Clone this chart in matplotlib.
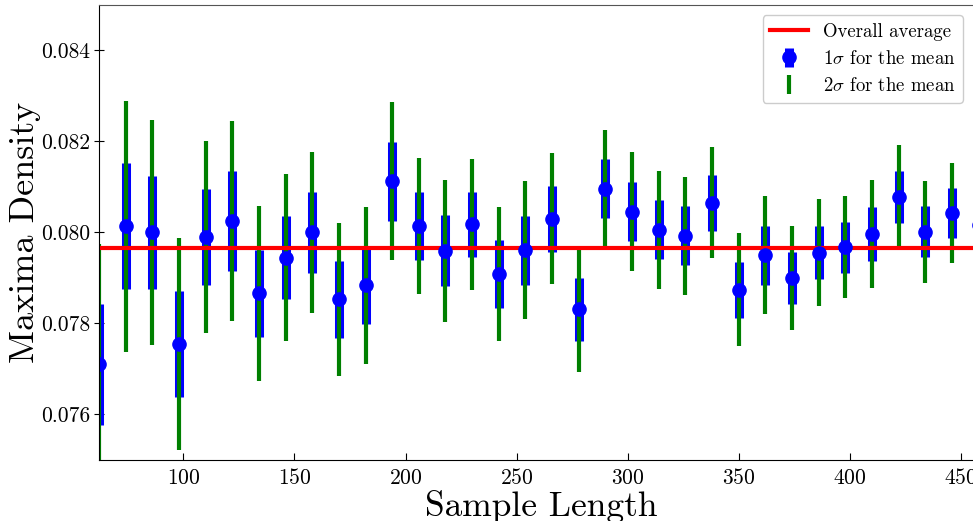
import numpy as np
import matplotlib
matplotlib.use('Agg')
import matplotlib.pyplot as plt
from matplotlib.ticker import FormatStrFormatter

plt.rcParams['font.family'] = 'serif'
plt.rcParams['font.serif'] = ['cmr10']
plt.rcParams['mathtext.fontset'] = 'cm'
plt.rcParams['axes.formatter.use_mathtext'] = True

#comprimento da amostra
sample_length = [62, 74, 86, 98, 110, 122, 134, 146, 158, 170, 182, 194, 206, 218, 230, 242, 254,
                 266, 278, 290, 302, 314, 326, 338, 350, 362, 374, 386, 398, 410, 422, 434, 446, 458]

#média da densidade máxima
mean_density = [0.07710, 0.08014, 0.08000, 0.07755, 0.07990, 0.08025, 0.07866, 0.07945, 0.08000,
                0.07853, 0.07884, 0.08113, 0.08014, 0.07960, 0.08018, 0.07909, 0.07961, 0.08030,
                0.07831, 0.08096, 0.08046, 0.08006, 0.07993, 0.08065, 0.07874, 0.07950, 0.07900,
                0.07956, 0.07968, 0.07997, 0.08078, 0.08002, 0.08042, 0.08017]

#desvio padrão da média (1 sigma)
sigma_mean = [0.00132, 0.00138, 0.00124, 0.00116, 0.00105, 0.00110, 0.00096, 0.00092, 0.00089,
              0.00084, 0.00086, 0.00087, 0.00075, 0.00078, 0.00072, 0.00074, 0.00076, 0.00072,
              0.00069, 0.00065, 0.00065, 0.00065, 0.00065, 0.00061, 0.00062, 0.00065, 0.00057,
              0.00059, 0.00056, 0.00059, 0.00057, 0.00056, 0.00055, 0.00055]

overall_average = 0.07967

x = np.array(sample_length)
y = np.array(mean_density)
s = np.array(sigma_mean)

fig = plt.figure(figsize=(9.73, 5.21), dpi=100)
ax = fig.add_axes([99/973, 61/521, 884/973, 455/521])

ax.errorbar(x, y, yerr=s, fmt='o', color='blue', ecolor='blue', markersize=9.5,
            elinewidth=6.5, capsize=0, label='$1\\sigma$ for the mean')
ax.errorbar(x, y, yerr=2*s, fmt='none', ecolor='green', elinewidth=3,
            capsize=0, label='$2\\sigma$ for the mean')
ax.axhline(overall_average, color='red', linewidth=3, label='Overall average')

ax.set_xlim(62, 460)
ax.set_ylim(0.075, 0.085)
ax.set_xticks([100, 150, 200, 250, 300, 350, 400, 450])
ax.set_yticks([0.076, 0.078, 0.080, 0.082, 0.084])
ax.yaxis.set_major_formatter(FormatStrFormatter('%.3f'))
ax.tick_params(axis='x', direction='in', length=5, labelsize=15.5, pad=6)
ax.tick_params(axis='y', direction='inout', length=7, labelsize=15.5, pad=3)
ax.tick_params(top=False, right=False)

ax.spines['top'].set_color('#555555')
ax.spines['right'].set_visible(False)

ax.set_xlabel('Sample Length', fontsize=25.5, labelpad=1)
ax.set_ylabel('Maxima Density', fontsize=26, labelpad=0)

ax.legend(loc='upper right', fontsize=13.5, framealpha=1, edgecolor='#cccccc',
          bbox_to_anchor=(0.977, 0.978), borderaxespad=0)

plt.savefig('out.png', dpi=100)
